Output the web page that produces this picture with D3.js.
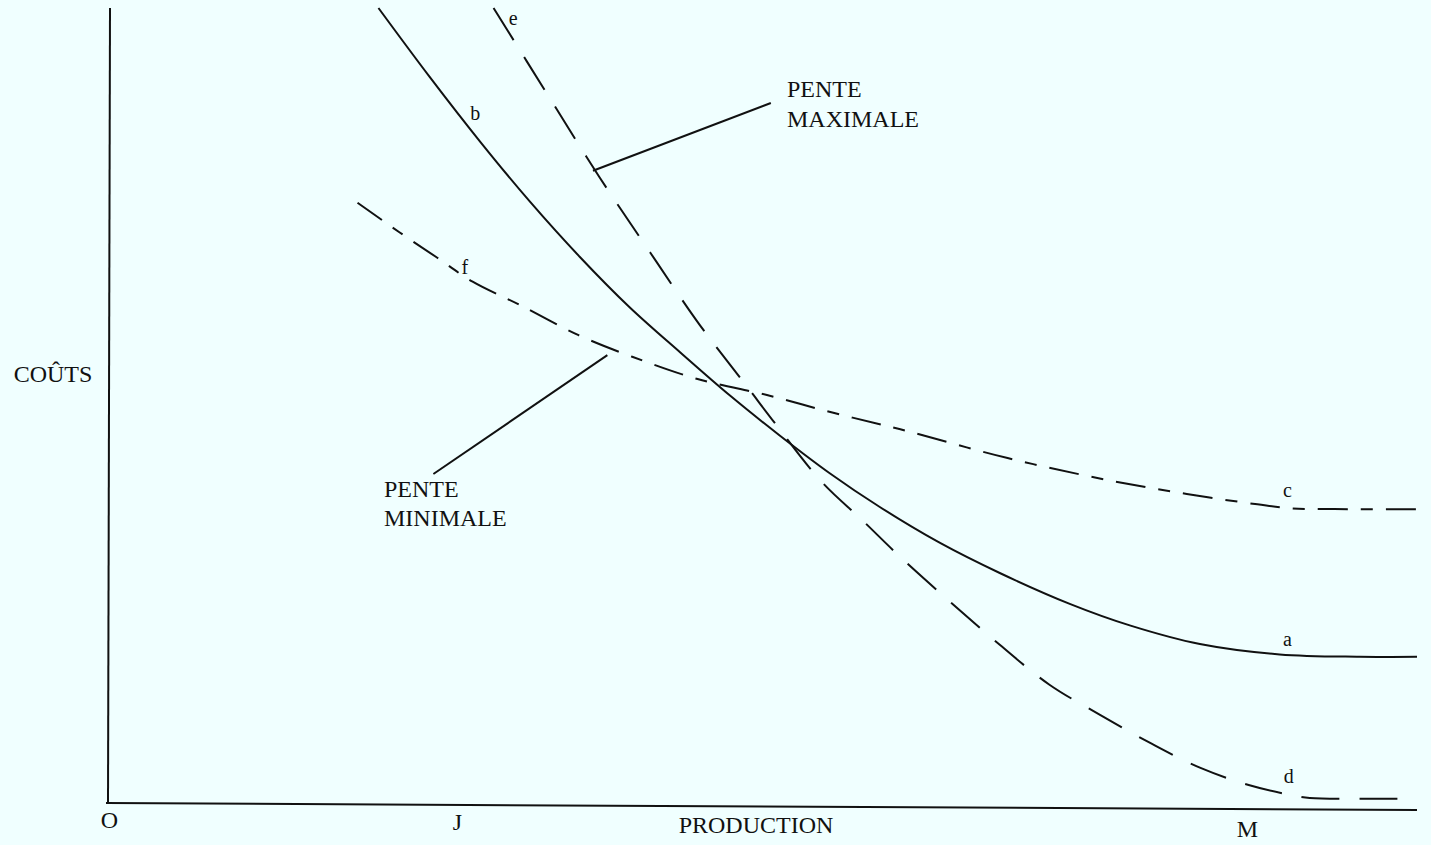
<!DOCTYPE html>
<html>
<head>
<meta charset="utf-8">
<script src="https://cdn.jsdelivr.net/npm/d3@7"></script>
<style>
  html, body { margin: 0; padding: 0; background: #F0FFFF; }
  svg { display: block; }
  text { font-family: "Liberation Serif", "Times New Roman", serif; fill: #111; }
</style>
</head>
<body>
<div id="chart"></div>
<script>
// ---- Data (production units 0..100, cost units 0..100) ----
const curveA_x = [20.6, 24.5, 28.4, 32.2, 36.0, 39.8, 43.7, 47.5, 51.3, 55.1, 58.9, 63.5, 68.1, 73.5, 78.1, 83.4, 89.5, 95.6, 100];
const curveA_y = [100.0, 91.4, 83.2, 75.7, 68.8, 62.5, 56.8, 51.4, 46.4, 41.7, 37.5, 33.0, 29.2, 25.3, 22.6, 20.3, 19.0, 18.7, 18.7];

const curveD_x = [29.4, 33.7, 37.5, 41.4, 45.2, 48.9, 50.9, 54.5, 57.6, 60.5, 64.3, 68.1, 71.9, 75.8, 79.6, 83.4, 87.2, 90.3, 91.8, 96.0, 100];
const curveD_y = [100.0, 88.7, 78.8, 69.3, 60.2, 52.3, 48.0, 40.6, 35.8, 31.2, 25.6, 20.2, 15.2, 11.4, 7.9, 4.8, 2.6, 1.4, 1.0, 0.9, 0.9];

const curveC_x = [19.0, 22.2, 25.1, 27.8, 31.4, 35.9, 40.0, 45.0, 50.3, 55.3, 60.5, 68.7, 76.5, 82.4, 87.8, 90.4, 95.0, 100];
const curveC_y = [75.6, 71.9, 68.7, 65.7, 62.8, 59.0, 56.3, 53.5, 51.5, 49.3, 47.2, 43.6, 40.8, 39.1, 37.8, 37.3, 37.2, 37.2];

const curveLabels = ["b", "e", "f", "c", "a", "d"];
const curveLabelX = [28.0, 30.9, 27.2, 90.1, 90.1, 90.2];
const curveLabelY = [86.6, 98.4, 67.2, 39.3, 20.6, 3.4];

const tickValues = [0, 26.6, 87.0];
const tickLabels = ["O", "J", "M"];

const xTitle = "PRODUCTION";
const yTitle = "COÛTS";
const calloutMax = ["PENTE", "MAXIMALE"];
const calloutMin = ["PENTE", "MINIMALE"];
// callout leader lines: [from x, from y, to x, to y]
const leaderMax = [37.0, 79.6, 50.6, 88.1];
const leaderMin = [38.1, 56.5, 24.8, 41.6];

// ---- Layout ----
const W = 1431, H = 845;
const svg = d3.select("#chart").append("svg").attr("width", W).attr("height", H);
svg.append("rect").attr("width", W).attr("height", H).attr("fill", "#F0FFFF");

const x = d3.scaleLinear().domain([0, 100]).range([109, 1417]);
const y = d3.scaleLinear().domain([0, 100]).range([806, 8]);

// axes
const tickDy = [22, 24, 31];
const xAxis = d3.axisBottom(x).tickValues(tickValues).tickSize(0).tickPadding(0)
  .tickFormat((d, i) => tickLabels[i]);
const gx = svg.append("g").attr("transform", `translate(0,${y(0)})`).call(xAxis);
gx.select(".domain").attr("stroke", "#111").attr("stroke-width", 2)
  .attr("d", `M${x(0) - 3},-3L${x(100)},4`);
gx.selectAll(".tick text").attr("font-size", 24).attr("font-family", "Liberation Serif")
  .attr("fill", "#111").attr("dy", null).attr("y", (d, i) => tickDy[i]);

const yAxis = d3.axisLeft(y).tickValues([]).tickSize(0);
const gy = svg.append("g").attr("transform", `translate(${x(0)},0)`).call(yAxis);
gy.select(".domain").attr("stroke", "#111").attr("stroke-width", 2)
  .attr("d", `M1,${y(100)}L-1,${y(0) - 3}`);

// axis titles
svg.append("text").attr("x", (x(0) + x(100)) / 2 - 7).attr("y", y(0) + 27)
  .attr("text-anchor", "middle").attr("font-size", 24).text(xTitle);
svg.append("text").attr("x", 53).attr("y", 382)
  .attr("text-anchor", "middle").attr("font-size", 24).text(yTitle);

// curves
const line = d3.line().x(d => x(d[0])).y(d => y(d[1])).curve(d3.curveCatmullRom.alpha(0.5));
const zip = (xs, ys) => xs.map((v, i) => [v, ys[i]]);

svg.append("path").datum(zip(curveA_x, curveA_y)).attr("d", line)
  .attr("fill", "none").attr("stroke", "#111").attr("stroke-width", 2);
svg.append("path").datum(zip(curveD_x, curveD_y)).attr("d", line)
  .attr("fill", "none").attr("stroke", "#111").attr("stroke-width", 2)
  .attr("stroke-dasharray", "38,20");
svg.append("path").datum(zip(curveC_x, curveC_y)).attr("d", line)
  .attr("fill", "none").attr("stroke", "#111").attr("stroke-width", 2)
  .attr("stroke-dasharray", "30,13,12,13");

// curve labels
svg.selectAll("text.clab").data(curveLabels).enter().append("text")
  .attr("class", "clab")
  .attr("x", (d, i) => x(curveLabelX[i])).attr("y", (d, i) => y(curveLabelY[i]))
  .attr("text-anchor", "middle").attr("dominant-baseline", "middle")
  .attr("font-size", 20).text(d => d);

// callouts
svg.append("line").attr("x1", x(leaderMax[0])).attr("y1", y(leaderMax[1]))
  .attr("x2", x(leaderMax[2])).attr("y2", y(leaderMax[3]))
  .attr("stroke", "#111").attr("stroke-width", 2);
svg.append("line").attr("x1", x(leaderMin[0])).attr("y1", y(leaderMin[1]))
  .attr("x2", x(leaderMin[2])).attr("y2", y(leaderMin[3]))
  .attr("stroke", "#111").attr("stroke-width", 2);

svg.selectAll("text.cmax").data(calloutMax).enter().append("text").attr("class", "cmax")
  .attr("x", 787).attr("y", (d, i) => 97 + i * 30).attr("font-size", 24).text(d => d);
svg.selectAll("text.cmin").data(calloutMin).enter().append("text").attr("class", "cmin")
  .attr("x", 384).attr("y", (d, i) => 497 + i * 29).attr("font-size", 24).text(d => d);
</script>
</body>
</html>
